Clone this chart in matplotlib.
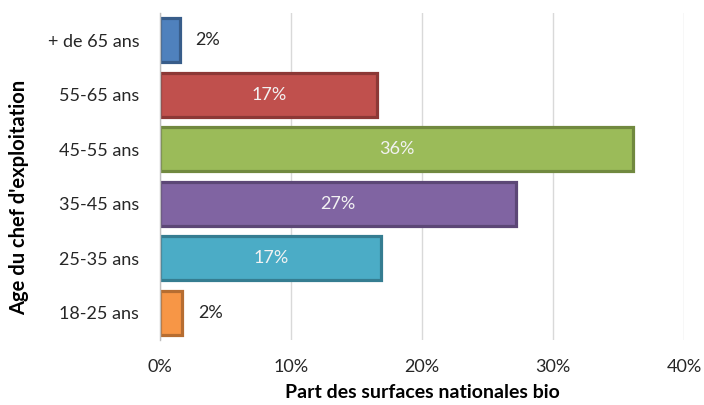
import matplotlib
matplotlib.use("Agg")
import matplotlib.pyplot as plt

categories = ["18-25 ans", "25-35 ans", "35-45 ans", "45-55 ans", "55-65 ans", "+ de 65 ans"]
values = [1.7, 16.9, 27.2, 36.1, 16.6, 1.5]
labels = ["2%", "17%", "27%", "36%", "17%", "2%"]
xticks = [0, 10, 20, 30, 40]
xticklabels = ["0%", "10%", "20%", "30%", "40%"]

faces = ["#F79646", "#4BACC6", "#8064A2", "#9BBB59", "#C0504D", "#4F81BD"]
edges = ["#B66D31", "#357D91", "#5C4776", "#71893F", "#8C3836", "#385D8A"]

plt.rcParams['font.family'] = ['Lato', 'DejaVu Sans']

fig = plt.figure(figsize=(7.04, 4.05), dpi=100)
ax = fig.add_axes([160/704, 65/405, 524/704, 327/405])

y = list(range(len(categories)))
bars = ax.barh(y, values, height=0.8, color=faces, edgecolor=edges, linewidth=2.3, zorder=3)

for yi, v, lab in zip(y, values, labels):
    if v > 5:
        ax.text(v / 2, yi, lab, ha="center", va="center", color="#F2F2F2", fontsize=13, zorder=4)
    else:
        ax.text(v + 1.2, yi, lab, ha="left", va="center", color="#262626", fontsize=13, zorder=4)

ax.set_xlim(0, 40)
ax.set_ylim(-0.5, len(categories) - 0.5)
ax.set_xticks(xticks)
ax.set_xticklabels(xticklabels, fontsize=13, color="#262626")
ax.set_yticks(y)
ax.set_yticklabels(categories, fontsize=13, color="#262626")
ax.tick_params(axis="both", length=0)
ax.tick_params(axis="y", pad=15)
ax.tick_params(axis="x", pad=14)
ax.grid(axis="x", color="#D9D9D9", linewidth=1, zorder=0)
for s in ["top", "right", "bottom"]:
    ax.spines[s].set_visible(False)
ax.spines["left"].set_color("#BFBFBF")
ax.spines["left"].set_linewidth(1)
ax.spines["left"].set_zorder(5)

ax.set_xlabel("Part des surfaces nationales bio", fontsize=14, fontweight="bold", color="#000000", labelpad=6)
ax.set_ylabel("Age du chef d'exploitation", fontsize=14.5, fontweight="bold", color="#000000")
ax.yaxis.set_label_coords(-0.25, 0.437)

fig.savefig("out.png", dpi=100)
